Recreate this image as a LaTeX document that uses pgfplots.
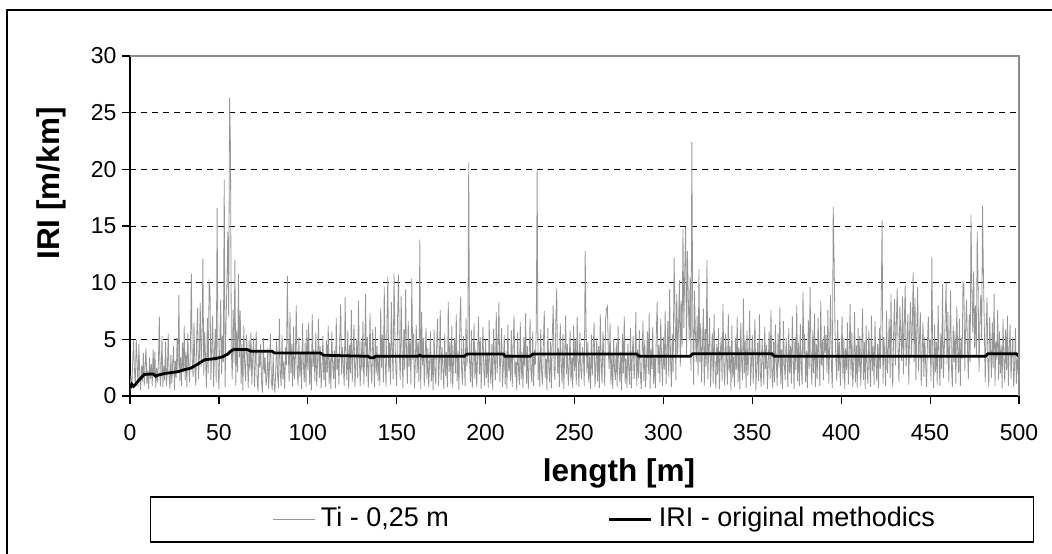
\documentclass[border=0pt]{standalone}
\usepackage{pgfplots}
\pgfplotsset{compat=1.18}
\usepackage{pgfplotstable}
\usepackage{fontspec}
\setmainfont{Liberation Sans}
\definecolor{tigray}{RGB}{150,150,150}
\definecolor{framegray}{RGB}{140,140,140}

% Ti - 0,25 m (one value every 0.5 m, 0 ... 500 m)
\pgfplotstableread[row sep=\\]{
y\\
0.4\\ 1.8\\ 0.6\\ 2.9\\ 4.9\\ 2.2\\ 1.0\\ 5.0\\ 3.1\\ 0.8\\ 4.6\\ 1.9\\ 0.5\\ 2.7\\ 1.3\\ 3.8\\ 0.9\\ 2.6\\ 4.2\\ 1.1\\
2.3\\ 0.6\\ 3.4\\ 1.5\\ 2.8\\ 0.9\\ 4.1\\ 1.6\\ 3.9\\ 0.7\\ 2.5\\ 1.2\\ 3.0\\ 7.0\\ 0.8\\ 1.9\\ 5.3\\ 0.8\\ 2.7\\ 1.4\\
4.8\\ 0.9\\ 2.2\\ 5.5\\ 1.7\\ 0.6\\ 3.6\\ 1.1\\ 2.9\\ 4.4\\ 0.5\\ 3.1\\ 1.6\\ 5.1\\ 2.0\\ 8.9\\ 1.3\\ 3.4\\ 0.9\\ 4.7\\
2.1\\ 6.2\\ 1.4\\ 3.9\\ 0.8\\ 5.6\\ 2.6\\ 1.2\\ 4.3\\ 10.8\\ 3.0\\ 1.7\\ 6.5\\ 2.4\\ 0.9\\ 5.1\\ 7.8\\ 1.5\\ 3.3\\ 8.2\\
2.6\\ 4.9\\ 12.1\\ 1.8\\ 5.7\\ 3.2\\ 0.7\\ 6.9\\ 2.0\\ 10.0\\ 9.6\\ 1.4\\ 4.4\\ 7.1\\ 0.8\\ 3.8\\ 5.9\\ 1.2\\ 16.6\\ 2.5\\
0.6\\ 4.7\\ 8.5\\ 1.9\\ 5.3\\ 3.0\\ 19.1\\ 0.8\\ 6.4\\ 9.8\\ 14.5\\ 7.0\\ 26.3\\ 22.0\\ 4.1\\ 1.5\\ 7.6\\ 2.9\\ 12.0\\ 0.9\\
5.8\\ 2.1\\ 10.8\\ 3.4\\ 7.5\\ 1.1\\ 4.6\\ 0.5\\ 6.2\\ 2.8\\ 1.3\\ 5.4\\ 3.7\\ 0.7\\ 4.9\\ 2.2\\ 5.6\\ 1.0\\ 3.3\\ 5.1\\
0.8\\ 2.9\\ 5.7\\ 1.6\\ 0.4\\ 3.8\\ 2.5\\ 4.6\\ 1.2\\ 0.3\\ 5.1\\ 2.0\\ 3.4\\ 0.9\\ 1.7\\ 4.2\\ 0.6\\ 2.8\\ 5.5\\ 1.4\\
0.5\\ 3.6\\ 1.1\\ 0.3\\ 2.4\\ 4.9\\ 1.8\\ 0.7\\ 6.8\\ 2.2\\ 0.9\\ 5.4\\ 1.5\\ 3.1\\ 0.6\\ 4.3\\ 2.7\\ 10.6\\ 3.9\\ 1.3\\
7.4\\ 2.0\\ 4.6\\ 0.8\\ 6.1\\ 1.5\\ 3.3\\ 8.0\\ 2.4\\ 0.9\\ 5.2\\ 1.7\\ 3.8\\ 0.6\\ 6.4\\ 2.9\\ 1.2\\ 4.7\\ 0.8\\ 5.9\\
2.3\\ 6.5\\ 1.0\\ 3.7\\ 0.5\\ 7.2\\ 2.6\\ 4.1\\ 1.3\\ 5.6\\ 0.9\\ 3.0\\ 6.8\\ 1.6\\ 4.4\\ 0.7\\ 2.5\\ 5.3\\ 1.4\\ 3.6\\
0.8\\ 4.9\\ 2.1\\ 6.2\\ 1.1\\ 3.4\\ 0.6\\ 5.7\\ 2.8\\ 1.5\\ 4.0\\ 0.7\\ 6.9\\ 2.3\\ 3.5\\ 1.0\\ 5.1\\ 8.1\\ 1.9\\ 4.3\\
2.6\\ 0.9\\ 8.7\\ 3.1\\ 1.4\\ 5.8\\ 0.6\\ 4.5\\ 2.0\\ 7.6\\ 1.2\\ 3.9\\ 6.3\\ 0.8\\ 2.7\\ 5.0\\ 1.6\\ 8.4\\ 3.2\\ 0.9\\
4.8\\ 2.2\\ 6.6\\ 1.0\\ 3.5\\ 9.0\\ 1.7\\ 5.2\\ 0.7\\ 3.0\\ 7.3\\ 2.4\\ 1.1\\ 5.9\\ 3.6\\ 0.8\\ 6.1\\ 2.0\\ 4.4\\ 1.3\\
3.7\\ 0.9\\ 7.8\\ 2.5\\ 5.4\\ 1.2\\ 9.6\\ 3.3\\ 0.8\\ 6.0\\ 10.5\\ 2.1\\ 4.7\\ 1.0\\ 8.3\\ 3.9\\ 1.5\\ 10.8\\ 5.2\\ 2.4\\
0.9\\ 7.0\\ 10.7\\ 3.6\\ 1.4\\ 8.8\\ 4.2\\ 0.7\\ 5.9\\ 2.3\\ 9.4\\ 3.8\\ 1.1\\ 6.6\\ 2.6\\ 4.9\\ 1.0\\ 10.4\\ 3.2\\ 5.5\\
0.7\\ 3.1\\ 6.3\\ 2.0\\ 4.8\\ 1.2\\ 13.8\\ 0.6\\ 7.4\\ 2.7\\ 5.1\\ 0.9\\ 3.4\\ 6.0\\ 1.5\\ 4.2\\ 0.8\\ 2.9\\ 5.7\\ 1.3\\
3.6\\ 0.5\\ 5.9\\ 2.2\\ 1.0\\ 4.7\\ 6.8\\ 0.9\\ 3.0\\ 7.6\\ 1.4\\ 4.3\\ 2.5\\ 0.6\\ 5.5\\ 1.8\\ 3.9\\ 0.8\\ 8.3\\ 2.1\\
4.8\\ 1.1\\ 6.2\\ 0.7\\ 3.4\\ 5.1\\ 2.0\\ 7.2\\ 1.3\\ 4.0\\ 0.5\\ 6.6\\ 8.8\\ 2.4\\ 1.0\\ 5.3\\ 3.2\\ 0.9\\ 6.9\\ 2.6\\
4.5\\ 20.6\\ 3.0\\ 1.2\\ 5.8\\ 0.7\\ 2.9\\ 6.4\\ 1.5\\ 4.1\\ 0.8\\ 3.6\\ 7.0\\ 1.9\\ 5.2\\ 0.6\\ 3.3\\ 6.1\\ 2.2\\ 0.9\\
5.0\\ 1.6\\ 3.8\\ 0.7\\ 6.7\\ 2.4\\ 1.1\\ 4.6\\ 0.5\\ 5.9\\ 3.1\\ 1.4\\ 7.4\\ 2.0\\ 4.3\\ 8.3\\ 1.2\\ 3.5\\ 6.0\\ 0.8\\
2.7\\ 5.4\\ 1.0\\ 4.0\\ 0.6\\ 6.3\\ 2.2\\ 3.7\\ 1.3\\ 5.8\\ 0.8\\ 4.5\\ 7.1\\ 1.7\\ 3.0\\ 0.5\\ 5.6\\ 2.4\\ 1.0\\ 6.5\\
1.5\\ 3.9\\ 0.7\\ 5.2\\ 2.6\\ 7.3\\ 1.1\\ 4.4\\ 0.6\\ 3.2\\ 6.8\\ 2.0\\ 1.2\\ 5.7\\ 0.9\\ 4.1\\ 2.8\\ 6.2\\ 20.0\\ 1.4\\
3.5\\ 0.8\\ 5.9\\ 2.1\\ 1.0\\ 4.6\\ 7.5\\ 1.6\\ 3.3\\ 0.5\\ 6.0\\ 2.7\\ 1.2\\ 4.8\\ 0.7\\ 5.3\\ 8.0\\ 2.3\\ 1.4\\ 6.6\\
9.5\\ 2.0\\ 4.2\\ 0.8\\ 6.4\\ 3.0\\ 1.1\\ 5.5\\ 0.6\\ 3.8\\ 7.1\\ 1.9\\ 4.6\\ 0.9\\ 2.5\\ 5.8\\ 1.3\\ 3.4\\ 0.7\\ 6.2\\
2.2\\ 4.9\\ 1.0\\ 7.0\\ 3.1\\ 0.8\\ 5.6\\ 2.4\\ 1.5\\ 4.3\\ 3.6\\ 0.9\\ 12.8\\ 6.1\\ 2.0\\ 4.7\\ 1.2\\ 3.5\\ 0.6\\ 5.4\\
1.8\\ 3.9\\ 6.5\\ 0.8\\ 2.6\\ 5.1\\ 1.3\\ 4.4\\ 0.7\\ 7.2\\ 2.9\\ 1.1\\ 5.7\\ 3.3\\ 0.9\\ 6.8\\ 7.7\\ 7.9\\ 4.0\\ 2.4\\
6.4\\ 1.0\\ 3.6\\ 0.6\\ 5.0\\ 2.3\\ 1.4\\ 4.7\\ 0.8\\ 6.2\\ 2.7\\ 1.2\\ 3.9\\ 0.5\\ 5.5\\ 2.0\\ 7.0\\ 1.1\\ 3.3\\ 0.7\\
4.6\\ 2.5\\ 1.0\\ 6.0\\ 0.7\\ 3.7\\ 5.3\\ 1.5\\ 2.8\\ 7.4\\ 0.9\\ 4.1\\ 1.6\\ 5.8\\ 2.2\\ 0.6\\ 3.4\\ 6.6\\ 1.3\\ 4.9\\
0.8\\ 3.0\\ 5.7\\ 1.9\\ 7.3\\ 0.6\\ 4.2\\ 2.4\\ 6.1\\ 1.1\\ 3.6\\ 0.7\\ 5.4\\ 8.3\\ 2.0\\ 4.5\\ 1.2\\ 6.8\\ 3.1\\ 0.9\\
5.2\\ 2.3\\ 7.5\\ 1.0\\ 4.0\\ 6.6\\ 1.7\\ 9.4\\ 3.2\\ 0.8\\ 5.5\\ 2.1\\ 12.2\\ 7.8\\ 1.4\\ 9.0\\ 3.7\\ 6.1\\ 10.2\\ 2.6\\
8.4\\ 4.3\\ 14.7\\ 6.0\\ 11.0\\ 14.9\\ 3.5\\ 12.8\\ 8.7\\ 4.9\\ 10.5\\ 2.2\\ 22.4\\ 6.7\\ 1.0\\ 9.3\\ 5.4\\ 3.0\\ 7.1\\ 1.8\\
11.2\\ 3.0\\ 6.4\\ 1.2\\ 4.8\\ 7.7\\ 0.9\\ 5.9\\ 2.6\\ 12.0\\ 1.5\\ 4.1\\ 6.9\\ 0.8\\ 3.3\\ 5.6\\ 1.1\\ 7.2\\ 2.4\\ 0.7\\
4.6\\ 1.9\\ 6.0\\ 0.6\\ 3.8\\ 5.2\\ 1.3\\ 8.1\\ 2.7\\ 0.9\\ 5.5\\ 3.4\\ 1.0\\ 7.3\\ 2.1\\ 4.4\\ 0.5\\ 6.2\\ 1.6\\ 3.5\\
0.8\\ 5.1\\ 2.3\\ 7.0\\ 1.2\\ 4.3\\ 0.6\\ 6.5\\ 3.0\\ 1.4\\ 8.6\\ 2.0\\ 4.9\\ 0.7\\ 5.8\\ 1.8\\ 3.6\\ 7.5\\ 0.9\\ 2.8\\
5.4\\ 1.1\\ 3.9\\ 6.8\\ 0.5\\ 2.6\\ 4.7\\ 1.3\\ 7.2\\ 2.1\\ 0.8\\ 5.0\\ 3.3\\ 1.0\\ 6.1\\ 2.4\\ 4.5\\ 0.6\\ 3.1\\ 5.7\\
1.5\\ 7.6\\ 2.2\\ 0.7\\ 4.8\\ 1.2\\ 6.3\\ 3.0\\ 0.9\\ 5.5\\ 2.5\\ 7.8\\ 1.0\\ 4.1\\ 0.6\\ 6.6\\ 2.8\\ 1.4\\ 5.1\\ 3.4\\
0.8\\ 6.0\\ 2.0\\ 4.4\\ 1.1\\ 7.1\\ 3.5\\ 0.6\\ 5.2\\ 2.3\\ 8.0\\ 1.3\\ 4.7\\ 0.9\\ 6.4\\ 2.6\\ 1.0\\ 9.2\\ 3.7\\ 5.5\\
1.2\\ 4.0\\ 0.7\\ 6.7\\ 2.4\\ 9.6\\ 3.1\\ 1.0\\ 5.8\\ 2.0\\ 7.3\\ 0.8\\ 4.6\\ 1.5\\ 6.9\\ 3.3\\ 0.9\\ 8.4\\ 2.7\\ 5.0\\
1.4\\ 6.2\\ 3.8\\ 5.4\\ 2.0\\ 7.6\\ 1.1\\ 4.3\\ 8.9\\ 2.6\\ 0.7\\ 16.7\\ 12.2\\ 5.9\\ 3.2\\ 1.3\\ 6.7\\ 2.2\\ 4.8\\ 0.9\\
3.6\\ 7.0\\ 1.5\\ 5.1\\ 0.6\\ 4.2\\ 2.3\\ 6.5\\ 1.0\\ 3.4\\ 8.1\\ 1.8\\ 5.6\\ 0.8\\ 2.9\\ 7.4\\ 1.2\\ 4.5\\ 0.7\\ 6.0\\
2.1\\ 5.3\\ 0.9\\ 3.9\\ 7.7\\ 1.4\\ 4.8\\ 0.6\\ 6.2\\ 2.5\\ 1.1\\ 5.8\\ 3.0\\ 0.8\\ 7.1\\ 2.2\\ 4.4\\ 1.0\\ 6.6\\ 3.2\\
1.3\\ 4.6\\ 0.7\\ 6.0\\ 2.4\\ 8.3\\ 15.5\\ 1.1\\ 5.2\\ 3.5\\ 0.9\\ 7.5\\ 2.0\\ 4.1\\ 6.8\\ 1.6\\ 9.0\\ 3.3\\ 0.8\\ 5.7\\
8.6\\ 2.7\\ 6.2\\ 9.5\\ 4.0\\ 1.2\\ 7.9\\ 5.5\\ 3.1\\ 8.8\\ 1.9\\ 6.4\\ 9.8\\ 2.6\\ 4.7\\ 7.2\\ 1.0\\ 5.9\\ 8.3\\ 3.4\\
6.1\\ 10.9\\ 3.0\\ 8.7\\ 1.4\\ 5.8\\ 9.6\\ 2.2\\ 4.9\\ 7.4\\ 0.9\\ 3.8\\ 6.5\\ 1.7\\ 5.2\\ 2.8\\ 0.8\\ 4.6\\ 7.0\\ 3.5\\
5.0\\ 1.3\\ 12.2\\ 3.2\\ 0.7\\ 6.3\\ 2.1\\ 4.8\\ 1.0\\ 8.0\\ 3.6\\ 0.9\\ 5.5\\ 2.4\\ 9.9\\ 1.6\\ 4.2\\ 6.9\\ 10.0\\ 2.8\\
7.4\\ 1.2\\ 4.5\\ 9.3\\ 2.6\\ 0.8\\ 6.2\\ 3.0\\ 5.7\\ 1.1\\ 7.9\\ 4.0\\ 2.0\\ 6.8\\ 0.9\\ 5.1\\ 3.3\\ 10.0\\ 9.8\\ 2.2\\
6.0\\ 8.5\\ 4.4\\ 1.5\\ 7.2\\ 3.0\\ 16.0\\ 9.1\\ 5.6\\ 11.0\\ 4.2\\ 8.0\\ 3.5\\ 14.5\\ 9.6\\ 2.1\\ 6.6\\ 8.9\\ 5.0\\ 16.8\\
10.5\\ 6.1\\ 1.2\\ 5.3\\ 8.7\\ 3.0\\ 0.8\\ 7.0\\ 4.1\\ 1.6\\ 6.5\\ 2.5\\ 9.0\\ 0.9\\ 4.8\\ 3.2\\ 7.6\\ 1.4\\ 5.7\\ 2.0\\
4.5\\ 0.7\\ 6.8\\ 3.1\\ 1.2\\ 5.9\\ 2.3\\ 7.1\\ 0.9\\ 4.0\\ 6.3\\ 1.5\\ 3.6\\ 5.2\\ 0.8\\ 2.7\\ 6.0\\ 1.1\\ 3.4\\ 2.0\\
1.9\\
}\tidata

% IRI - original methodics
\pgfplotstableread{
x y
0 0.7
1 1.05
2 0.85
3 1.0
5 1.4
8 1.9
13 1.95
14.5 1.75
16 1.85
20 2.0
27 2.15
30 2.3
34 2.45
38 2.8
42 3.2
48 3.3
52 3.45
55 3.7
57 4.0
58.5 4.1
66 4.1
68 3.95
80 3.95
81 3.8
107 3.8
109 3.6
121 3.55
134 3.5
135 3.38
137 3.38
138 3.5
162 3.5
163 3.6
164 3.5
188 3.5
189.5 3.7
210 3.7
211 3.5
225 3.5
226.5 3.7
285 3.7
286.5 3.5
315 3.5
316.5 3.73
361 3.73
362.5 3.5
481 3.5
482.5 3.73
498.5 3.73
500 3.5
}\iridata

\begin{document}
\begin{tikzpicture}
\path[use as bounding box] (0pt,0pt) rectangle (1052pt,554pt);
\draw[line width=1.2pt] (7pt,0pt) -- (7pt,544pt) -- (1052pt,544pt);
\begin{axis}[
  at={(130pt,158pt)}, anchor=south west,
  scale only axis, width=889pt, height=340pt,
  xmin=0, xmax=500, ymin=0, ymax=30,
  xtick={0,50,...,500}, ytick={0,5,...,30},
  axis x line*=bottom, axis y line*=left,
  axis line style={black, line width=1.2pt},
  tick align=outside, major tick length=8pt,
  tick style={black, line width=1.2pt},
  /pgf/number format/assume math mode=true,
  ticklabel style={font=\fontsize{23}{23}\selectfont},
  xticklabel style={yshift=-17pt},
  yticklabel style={xshift=-2pt},
  extra y ticks={5,10,15,20,25}, extra y tick labels={},
  extra y tick style={grid=major},
  grid style={black, line width=0.9pt, dash pattern=on 6pt off 5pt},
  xlabel={length [m]}, ylabel={IRI [m/km]},
  label style={font=\fontsize{31.5}{31.5}\selectfont\bfseries},
  xlabel style={at={(axis description cs:0.55,-0.2265)}, anchor=center},
  ylabel style={at={(axis description cs:-0.088,0.625)}, anchor=center},
  legend image code/.code={\path (-25pt,0pt); \draw[#1] (0pt,0pt) -- (42pt,0pt);},
  legend style={at={(axis description cs:0.5197,-0.3632)}, anchor=center,
    draw=black, line width=1.2pt, font=\fontsize{27}{27}\selectfont,
    inner xsep=96.5pt, inner ysep=7.5pt,
    nodes={inner xsep=2pt, inner ysep=2pt, text height=20pt, text depth=6pt},
    legend columns=2,
    /tikz/every odd column/.append style={column sep=4pt},
    /tikz/every even column/.append style={column sep=132pt}},
  after end axis/.code={\draw[framegray, line width=1.3pt] (rel axis cs:0,1) -- (rel axis cs:1,1) -- (rel axis cs:1,0);},
]
\addplot[tigray, line width=0.8pt] table[x expr=\coordindex*0.5, y=y] {\tidata};
\addlegendentry{Ti - 0,25 m}
\addplot[black, line width=2.8pt] table[x=x, y=y] {\iridata};
\addlegendentry{IRI - original methodics}
\end{axis}
\end{tikzpicture}
\end{document}
